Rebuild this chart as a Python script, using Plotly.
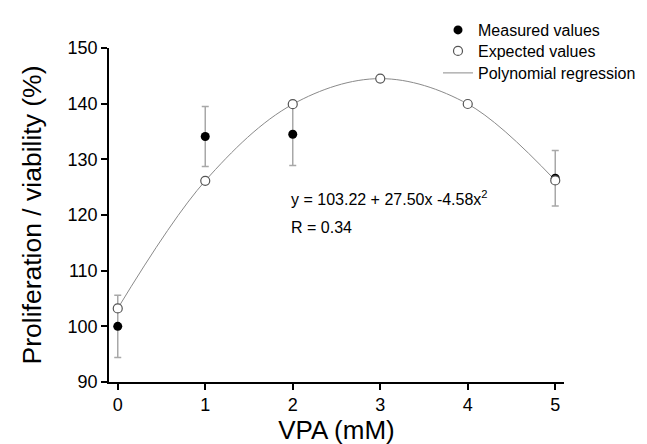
import plotly.graph_objects as go

# Data
measured_x = [0, 1, 2, 5]
measured_y = [100.0, 134.1, 134.5, 126.6]
measured_err = [5.6, 5.4, 5.6, 5.0]

expected_x = [0, 1, 2, 3, 4, 5]
expected_y = [103.22, 126.14, 139.90, 144.50, 139.94, 126.22]

x_ticks = [0, 1, 2, 3, 4, 5]
y_ticks = [90, 100, 110, 120, 130, 140, 150]

equation_text = "y = 103.22 + 27.50x -4.58x<sup>2</sup>"
r_text = "R = 0.34"

FONT = "Arial, Liberation Sans, sans-serif"

fig = go.Figure()

fig.add_trace(go.Scatter(
    x=expected_x, y=expected_y, mode="lines",
    line=dict(color="#8a8a8a", width=1, shape="spline", smoothing=1.0),
    name="Polynomial regression", legend="legend3",
))
fig.add_trace(go.Scatter(
    x=measured_x, y=measured_y, mode="markers",
    marker=dict(color="black", size=9, symbol="circle"),
    error_y=dict(type="data", array=measured_err, visible=True,
                 color="#a8a8a8", thickness=1.5, width=3.5),
    name="Measured values", legend="legend",
))
fig.add_trace(go.Scatter(
    x=expected_x, y=expected_y, mode="markers",
    marker=dict(color="white", size=9, symbol="circle",
                line=dict(color="#555555", width=1.2)),
    name="Expected values", legend="legend2",
))

fig.add_annotation(x=1.96, y=123.0, xref="x", yref="y", text=equation_text,
                   showarrow=False, xanchor="left", yanchor="middle",
                   font=dict(family=FONT, size=16, color="black"))
fig.add_annotation(x=1.96, y=117.8, xref="x", yref="y", text=r_text,
                   showarrow=False, xanchor="left", yanchor="middle",
                   font=dict(family=FONT, size=16, color="black"))

axis_common = dict(
    showgrid=False, zeroline=False, showline=True, linecolor="black", linewidth=1.5,
    ticks="outside", tickcolor="black", tickwidth=1.5, ticklen=6,
    tickfont=dict(family=FONT, size=18, color="black"),
    mirror=False,
)

def legend_at(yc):
    return dict(x=430 / 647, y=1 - yc / 444, xref="container", yref="container",
                xanchor="left", yanchor="middle",
                font=dict(family=FONT, size=16, color="black"),
                bgcolor="rgba(0,0,0,0)", itemwidth=30)

fig.update_layout(
    width=647, height=444,
    margin=dict(l=101, r=91, t=40, b=70, autoexpand=False),
    paper_bgcolor="white", plot_bgcolor="white",
    font=dict(family=FONT, color="black"),
    xaxis=dict(range=[-0.1, 5.1], tickvals=x_ticks,
               title=dict(text="VPA (mM)", font=dict(family=FONT, size=26), standoff=4),
               **axis_common),
    yaxis=dict(range=[90, 150], tickvals=y_ticks,
               title=dict(text="Proliferation / viability (%)", font=dict(family=FONT, size=26.5), standoff=18),
               **axis_common),
    legend=legend_at(22),
    legend2=legend_at(43),
    legend3=legend_at(65),
    showlegend=True,
)

fig.write_html("out.html")
